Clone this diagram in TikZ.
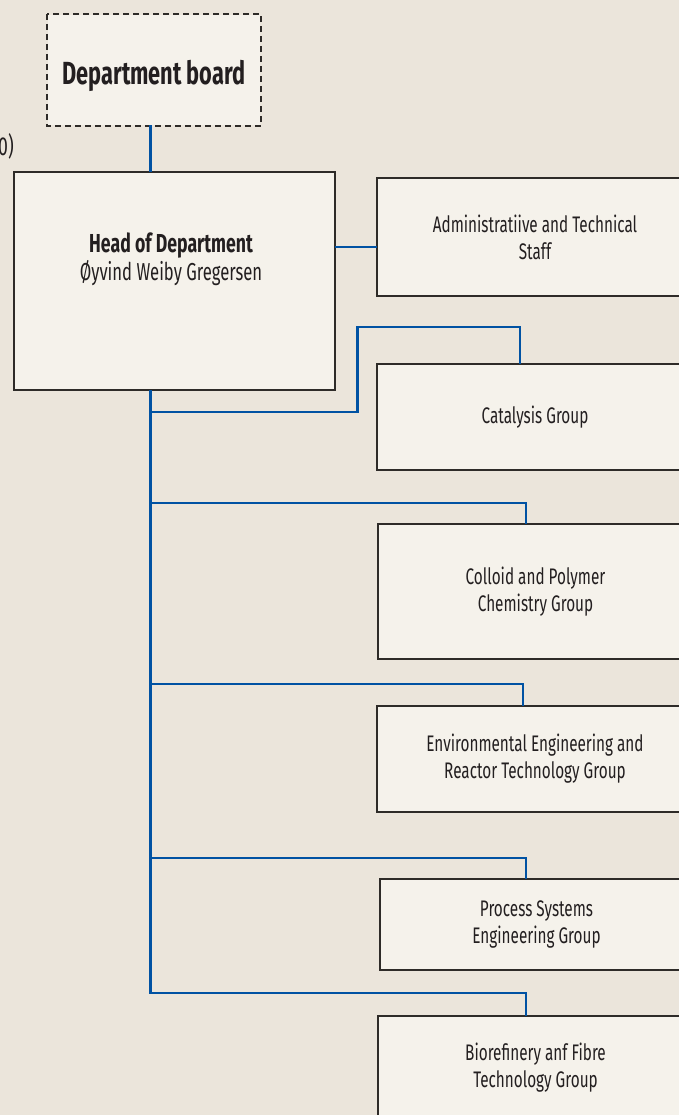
\documentclass[tikz,border=0pt]{standalone}
\usepackage{fontspec}
\setmainfont{Fira Sans}[FakeStretch=0.68]
\definecolor{bg}{HTML}{EBE5DB}
\definecolor{boxfill}{HTML}{F5F2EB}
\definecolor{edge}{HTML}{2E2B28}
\definecolor{ink}{HTML}{231F20}
\definecolor{ntnu}{HTML}{0052A3}
\tikzset{
  orgbox/.style={draw=edge, line width=2pt, fill=boxfill, anchor=north west,
    inner sep=0pt, text=ink, align=center, font=\fontsize{22.5}{27}\selectfont},
  link/.style={draw=ntnu, line width=2.6pt, line join=miter, line cap=rect},
}
\begin{document}
\begin{tikzpicture}[x=1pt,y=-1pt]
\fill[bg] (0,0) rectangle (679,1115);
\useasboundingbox (0,0) rectangle (679,1115);
% cut-off text at left edge
\node[anchor=east, inner sep=0pt, text=ink, font=\fontsize{26}{30}\selectfont] (cut) at (14,146) {0)};
% boxes
\node[orgbox, draw=none, minimum width=212pt, minimum height=110pt,
      text height=29pt, text depth=0pt,
      font=\bfseries\fontsize{32}{38}\selectfont] (board) at (47,14) {Department board};
\draw[edge, line width=1.8pt, dash pattern=on 6pt off 4pt] (board.north west) rectangle (board.south east);
\node[orgbox, minimum width=321pt, minimum height=218pt] (head) at (13,171) {};
\node[text=ink, align=center, inner sep=0pt] (headtxt) at (171,259)
  {{\bfseries\fontsize{26}{30}\selectfont Head of Department}\\[1pt]
   {\fontsize{24.5}{30}\selectfont Øyvind Weiby Gregersen}};
\node[orgbox, minimum width=316pt, minimum height=118pt] (admin) at (376,177)
  {Administratiive and Technical\\Staff};
\node[orgbox, minimum width=316pt, minimum height=106pt] (catal) at (376,363)
  {Catalysis Group};
\node[orgbox, minimum width=316pt, minimum height=135pt] (colloid) at (376.5,523)
  {Colloid and Polymer\\Chemistry Group};
\node[orgbox, minimum width=316pt, minimum height=106pt] (env) at (376,705)
  {Environmental Engineering and\\Reactor Technology Group};
\node[orgbox, minimum width=313pt, minimum height=91pt] (proc) at (379,878)
  {Process Systems\\Engineering Group};
\node[orgbox, minimum width=315pt, minimum height=103pt] (bio) at (377,1015)
  {Biorefinery anf Fibre\\Technology Group};
% connector coordinates
\coordinate (trunk) at (150.5,0);
\coordinate (ha) at (0,247);
\coordinate (catjog) at (357.5,327);
\coordinate (catbr) at (150.5,412);
\coordinate (colbr) at (150.5,503);
\coordinate (envbr) at (150.5,684);
\coordinate (procbr) at (150.5,858);
\coordinate (biobr) at (150.5,993);
% connectors
\draw[link] (board.south -| trunk) -- (head.north -| trunk);
\draw[link] (ha -| head.east) -- (ha -| admin.west);
\draw[link] (head.south -| trunk) -- (biobr) -| ([xshift=149pt]bio.north west);
\draw[link] (catbr) -- (catbr -| catjog) -- (catjog) -| ([xshift=144pt]catal.north west);
\draw[link] (colbr) -| ([xshift=149.5pt]colloid.north west);
\draw[link] (envbr) -| ([xshift=147pt]env.north west);
\draw[link] (procbr) -| ([xshift=147pt]proc.north west);
\end{tikzpicture}
\end{document}
